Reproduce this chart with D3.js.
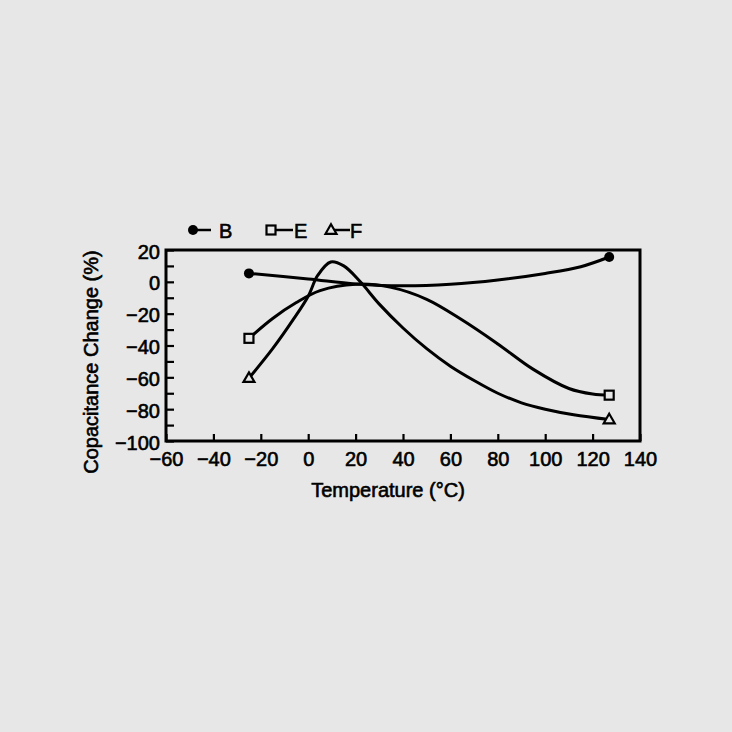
<!DOCTYPE html>
<html>
<head>
<meta charset="utf-8">
<script src="https://cdn.jsdelivr.net/npm/d3@7"></script>
<style>
  html, body { margin: 0; padding: 0; background: #e7e7e7; }
  svg { display: block; }
  text { font-family: "Liberation Sans", Arial, Helvetica, sans-serif; fill: #000; stroke: #000; stroke-width: 0.6px; }
</style>
</head>
<body>
<svg id="chart" width="732" height="732"></svg>
<script>
// ---- data ----
const seriesNames = ["B", "E", "F"];
const markerShapes = ["circle", "square", "triangle"];

// temperature (°C) and capacitance change (%) sampled along each curve
const tempB = [-25, 0, 20, 40, 60, 80, 100, 115, 127];
const capB  = [5.3, 1.8, -1.3, -2.5, -1.5, 1.2, 5.3, 9.5, 15.6];

const tempE = [-25, -15, -5, 5, 20, 35, 50, 65, 80, 95, 110, 120, 127];
const capE  = [-35.5, -23, -13, -5.5, -1.5, -3.5, -11, -24, -39, -55, -67, -70.5, -71.2];

const tempF = [-25, -15, -6, 0, 4, 9.5, 15, 22, 30, 40, 50, 60, 70, 80, 90, 100, 112, 127];
const capF  = [-60.5, -42, -23, -9, 4, 12.5, 10, 0, -14, -29, -42, -53, -62, -70, -76, -80, -83.5, -86.5];

const xTicks = [-60, -40, -20, 0, 20, 40, 60, 80, 100, 120, 140];
const yTicks = [-100, -90, -80, -70, -60, -50, -40, -30, -20, -10, 0, 10, 20];

const xTitle = "Temperature (°C)";
const yTitle = "Copacitance Change (%)";

// ---- build ----
const seriesTemps = [tempB, tempE, tempF];
const seriesCaps = [capB, capE, capF];
const series = seriesNames.map((name, i) => ({
  name,
  shape: markerShapes[i],
  points: seriesTemps[i].map((t, j) => ({ t, c: seriesCaps[i][j] }))
}));

const svg = d3.select("#chart");
const pL = 166, pR = 640, pT = 250, pB = 441;

const x = d3.scaleLinear().domain([-60, 140]).range([pL, pR]);
const y = d3.scaleLinear().domain([-100, 20]).range([pB, pT]);

const fmt = d3.format("d");

// y axis (ticks inward)
const yAxis = svg.append("g")
  .attr("transform", `translate(${pL},0)`)
  .call(d3.axisLeft(y).tickValues(yTicks).tickSize(-8).tickPadding(6)
    .tickFormat(v => (v % 20 === 0 ? fmt(v) : "")));
yAxis.select(".domain").remove();
yAxis.selectAll(".tick line").attr("stroke", "#000").attr("stroke-width", 2.2);
yAxis.selectAll(".tick text").attr("font-size", 20).attr("dy", "0.4em")
  .style("font-family", '"Liberation Sans", Arial, sans-serif');

// x axis (ticks inward)
const xAxis = svg.append("g")
  .attr("transform", `translate(0,${pB})`)
  .call(d3.axisBottom(x).tickValues(xTicks).tickSize(-7).tickPadding(11).tickFormat(fmt));
xAxis.select(".domain").remove();
xAxis.selectAll(".tick line").attr("stroke", "#000").attr("stroke-width", 2.2);
xAxis.selectAll(".tick text").attr("font-size", 20)
  .style("font-family", '"Liberation Sans", Arial, sans-serif');

// frame
svg.append("rect")
  .attr("x", pL).attr("y", pT)
  .attr("width", pR - pL).attr("height", pB - pT)
  .attr("fill", "none").attr("stroke", "#000").attr("stroke-width", 3);

// curves
const line = d3.line()
  .x(d => x(d.t)).y(d => y(d.c))
  .curve(d3.curveCatmullRom.alpha(0.5));

svg.append("g").selectAll("path")
  .data(series).join("path")
  .attr("d", d => line(d.points))
  .attr("fill", "none").attr("stroke", "#000").attr("stroke-width", 3)
  .attr("stroke-linejoin", "round").attr("stroke-linecap", "round");

// markers
function drawMarker(g, shape, cx, cy) {
  if (shape === "circle") {
    g.append("circle").attr("cx", cx).attr("cy", cy).attr("r", 5).attr("fill", "#000");
  } else if (shape === "square") {
    g.append("rect").attr("x", cx - 4.5).attr("y", cy - 4.5).attr("width", 9).attr("height", 9)
      .attr("fill", "#e7e7e7").attr("stroke", "#000").attr("stroke-width", 2.2);
  } else {
    const s = 11;
    const h = s * Math.sqrt(3) / 2;
    g.append("path")
      .attr("d", `M${cx},${cy - h * 0.6}L${cx + s / 2},${cy + h * 0.4}L${cx - s / 2},${cy + h * 0.4}Z`)
      .attr("fill", "#e7e7e7").attr("stroke", "#000").attr("stroke-width", 2.2)
      .attr("stroke-linejoin", "miter");
  }
}

const mk = svg.append("g");
series.forEach(s => {
  const pts = [s.points[0], s.points[s.points.length - 1]];
  pts.forEach(p => drawMarker(mk, s.shape, x(p.t), y(p.c)));
});

// legend
const legendX = [193, 271, 331];
const legendLineEnd = [211, 293, 350];
const legendTextX = [219, 294, 350];
const lg = svg.append("g");
series.forEach((s, i) => {
  const lx = legendX[i], ly = 230;
  lg.append("line").attr("x1", lx).attr("x2", legendLineEnd[i]).attr("y1", ly).attr("y2", ly)
    .attr("stroke", "#000").attr("stroke-width", 2.5);
  drawMarker(lg, s.shape, lx, ly);
  lg.append("text").attr("x", legendTextX[i]).attr("y", ly + 8)
    .attr("font-size", 20).text(s.name);
});

// axis titles
svg.append("text")
  .attr("x", 388).attr("y", 497)
  .attr("text-anchor", "middle").attr("font-size", 20)
  .text(xTitle);

svg.append("text")
  .attr("transform", "translate(98,362) rotate(-90)")
  .attr("text-anchor", "middle").attr("font-size", 20)
  .text(yTitle);
</script>
</body>
</html>
